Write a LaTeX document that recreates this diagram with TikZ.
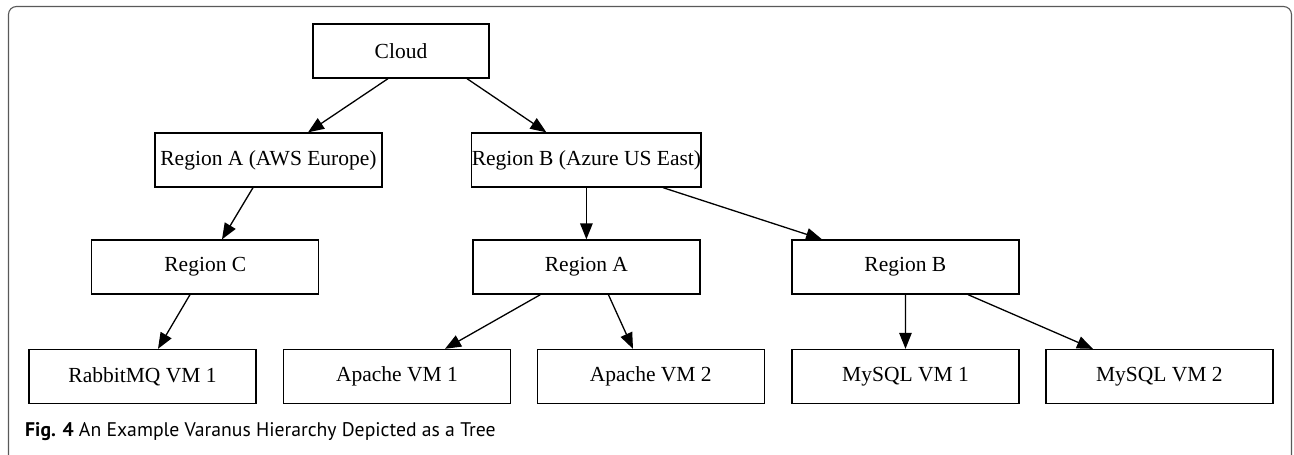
\documentclass[tikz,border=0pt]{standalone}
\usepackage{fontspec}
\setmainfont{Liberation Serif}
\newfontfamily\capfont{PT Sans}
\usetikzlibrary{arrows.meta,calc}
\tikzset{
  treebox/.style={draw=black, line width=1.3pt, minimum width=227pt, minimum height=54pt, inner sep=0pt, font=\fontsize{21.5}{24}\selectfont},
  edge/.style={draw=black, line width=1.3pt, -{Triangle[length=16pt,width=12.5pt]}},
  frame/.style={draw=black!65, line width=1.1pt, rounded corners=8pt}
}
\begin{document}
\begin{tikzpicture}[x=1pt,y=-1pt]
\useasboundingbox (0,0) rectangle (1294,455);
\draw[frame] (8.5,480) -- (8.5,6.5) -- (1291.5,6.5) -- (1291.5,480);
\node[treebox, minimum width=176pt] (cloud) at (401,51) {Cloud};
\node[treebox] (ra) at (268.5,160) {Region A (AWS Europe)};
\node[treebox] (rb) at (586.4,160) {Region B (Azure US East)};
\node[treebox] (rc) at (205.3,267) {Region C};
\node[treebox] (ra2) at (586.4,267) {Region A};
\node[treebox] (rb2) at (905.4,267) {Region B};
\node[treebox] (rabbit) at (142.5,376.5) {RabbitMQ VM 1};
\node[treebox] (ap1) at (397,376.5) {Apache VM 1};
\node[treebox] (ap2) at (650.8,376.5) {Apache VM 2};
\node[treebox] (my1) at (905.5,376.5) {MySQL VM 1};
\node[treebox] (my2) at (1159.4,376.5) {MySQL VM 2};
\node[anchor=west, inner sep=0pt, font=\capfont\fontsize{19.7}{23}\selectfont] (cap) at (25,432) {\textbf{Fig. 4} An Example Varanus Hierarchy Depicted as a Tree};
\draw[edge] ($(cloud.south)+(-13,0)$) -- ($(ra.north)+(39.5,0)$);
\draw[edge] ($(cloud.south)+(66,0)$) -- ($(rb.north)+(-40,0)$);
\draw[edge] ($(ra.south)+(-15.5,0)$) -- ($(rc.north)+(16.7,0)$);
\draw[edge] (rb.south) -- (ra2.north);
\draw[edge] ($(rb.south)+(76.6,0)$) -- ($(rb2.north)+(-83.4,0)$);
\draw[edge] ($(rc.south)+(-15.3,0)$) -- ($(rabbit.north)+(15.5,0)$);
\draw[edge] ($(ra2.south)+(-46,0)$) -- ($(ap1.north)+(48,0)$);
\draw[edge] ($(ra2.south)+(22,0)$) -- ($(ap2.north)+(-17.8,0)$);
\draw[edge] (rb2.south) -- (my1.north);
\draw[edge] ($(rb2.south)+(62.6,0)$) -- ($(my2.north)+(-66.4,0)$);
\end{tikzpicture}
\end{document}
